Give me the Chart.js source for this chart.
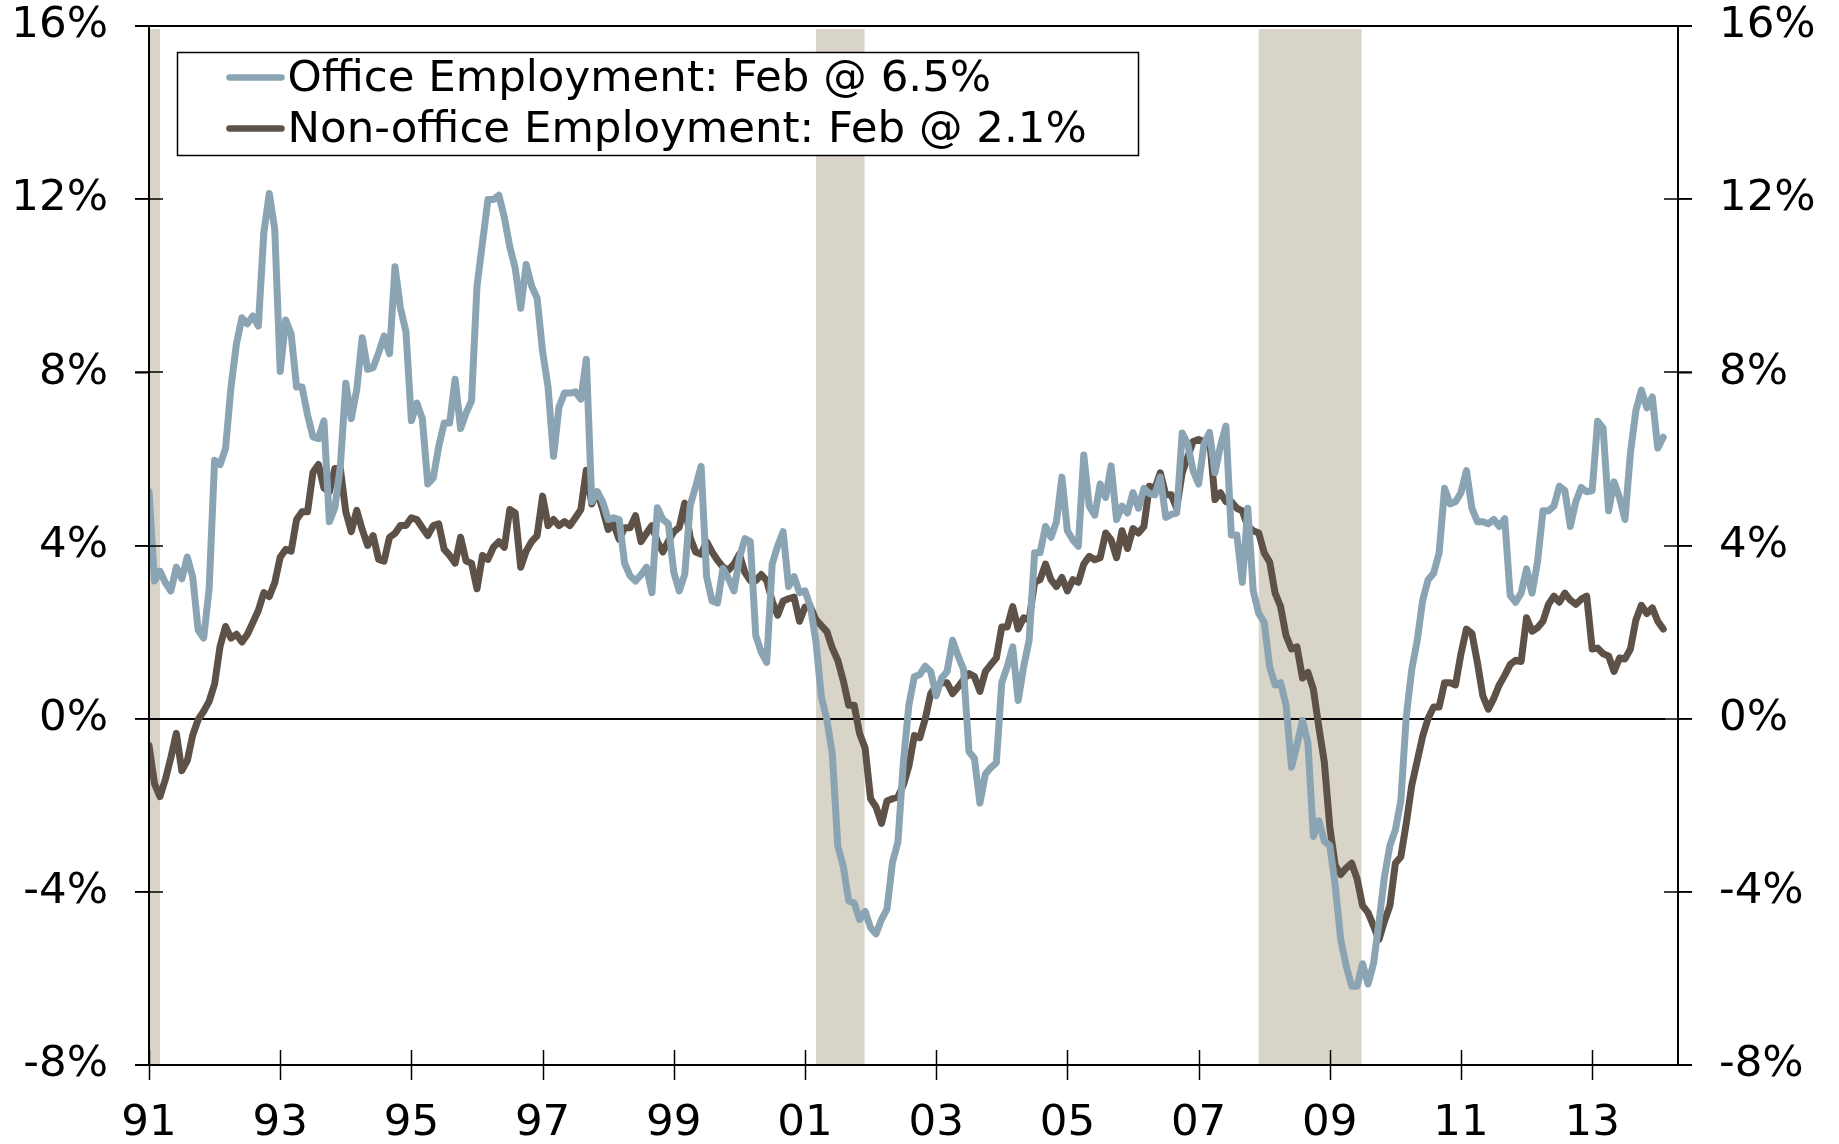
<!DOCTYPE html>
<html><head><meta charset="utf-8">
<script src="https://cdn.jsdelivr.net/npm/chart.js@4.4.1/dist/chart.umd.min.js"></script>
<style>html,body{margin:0;padding:0;background:#fff;}canvas{display:block;}</style>
</head><body>
<canvas id="c" width="1839" height="1144"></canvas>
<script>
// Monthly data, Jan 1991 (index 0) .. Feb 2014 (index 277), year-over-year % change
const startYear = 1991;
const office = [
 5.24, 3.18, 3.41, 3.14, 2.95, 3.5, 3.23, 3.73, 3.27, 2.04, 1.86, 3.0,
 5.97, 5.87, 6.24, 7.66, 8.66, 9.26, 9.12, 9.3, 9.07, 11.22, 12.13, 11.31,
 8.02, 9.21, 8.89, 7.66, 7.66, 7.02, 6.51, 6.47, 6.88, 4.55, 4.87, 5.83,
 7.75, 6.93, 7.6, 8.8, 8.07, 8.11, 8.45, 8.84, 8.43, 10.44, 9.48, 8.94,
 6.88, 7.29, 6.93, 5.42, 5.56, 6.29, 6.83, 6.83, 7.84, 6.7, 7.06, 7.34,
 9.99, 10.99, 11.99, 11.99, 12.09, 11.58, 10.9, 10.4, 9.48, 10.49, 9.99, 9.71,
 8.48, 7.66, 6.06, 7.2, 7.52, 7.52, 7.55, 7.38, 8.3, 5.01, 5.24, 5.01,
 4.6, 4.64, 4.6, 3.59, 3.3, 3.18, 3.32, 3.5, 2.91, 4.87, 4.6, 4.5,
 3.38, 2.95, 3.33, 4.93, 5.36, 5.83, 3.28, 2.72, 2.67, 3.47, 3.24, 2.95,
 3.71, 4.16, 4.09, 1.92, 1.54, 1.3, 3.57, 3.99, 4.32, 3.05, 3.28, 2.91,
 2.95, 2.58, 1.78, 0.5, -0.02, -0.82, -2.94, -3.41, -4.21, -4.26, -4.64, -4.45,
 -4.83, -4.97, -4.64, -4.4, -3.32, -2.85, -1.0, 0.31, 0.97, 1.02, 1.21, 1.09,
 0.53, 0.94, 1.09, 1.81, 1.45, 1.14, -0.76, -0.92, -1.95, -1.28, -1.13, -1.02,
 0.83, 1.2, 1.66, 0.42, 1.2, 1.81, 3.83, 3.83, 4.44, 4.19, 4.55, 5.58,
 4.34, 4.13, 3.98, 6.09, 4.91, 4.7, 5.42, 5.11, 5.84, 4.6, 4.91, 4.75,
 5.22, 4.86, 5.32, 5.2, 5.17, 5.58, 4.65, 4.72, 4.75, 6.6, 6.35, 5.73,
 5.42, 6.35, 6.61, 5.68, 6.3, 6.76, 4.24, 4.24, 3.15, 4.86, 2.95, 2.43,
 2.23, 1.2, 0.78, 0.83, 0.32, -1.12, -0.61, -0.04, -0.56, -2.72, -2.36, -2.83,
 -2.93, -3.86, -5.1, -5.71, -6.18, -6.18, -5.66, -6.13, -5.66, -4.7, -3.65, -2.93,
 -2.57, -1.9, 0.06, 1.14, 1.81, 2.74, 3.21, 3.36, 3.83, 5.32, 4.96, 5.01,
 5.22, 5.73, 4.86, 4.55, 4.55, 4.5, 4.6, 4.44, 4.62, 2.85, 2.69, 2.9,
 3.46, 2.9, 3.62, 4.8, 4.8, 4.91, 5.37, 5.27, 4.44, 5.01, 5.34, 5.24,
 5.27, 6.87, 6.71, 4.8, 5.47, 5.11, 4.6, 6.14, 7.12, 7.59, 7.18, 7.43,
 6.25, 6.5
];
const nonOffice = [
 -0.62, -1.5, -1.8, -1.4, -0.9, -0.34, -1.2, -0.97, -0.38, -0.02, 0.17, 0.4,
 0.8, 1.67, 2.13, 1.86, 1.95, 1.77, 1.95, 2.22, 2.5, 2.91, 2.82, 3.14,
 3.73, 3.91, 3.87, 4.6, 4.78, 4.78, 5.69, 5.87, 5.33, 5.24, 5.78, 5.78,
 4.78, 4.32, 4.81, 4.37, 4.0, 4.23, 3.68, 3.64, 4.19, 4.28, 4.46, 4.46,
 4.64, 4.6, 4.41, 4.23, 4.46, 4.5, 3.91, 3.77, 3.59, 4.19, 3.64, 3.59,
 3.0, 3.77, 3.68, 3.96, 4.09, 3.96, 4.83, 4.75, 3.5, 3.87, 4.09, 4.23,
 5.14, 4.46, 4.6, 4.46, 4.55, 4.46, 4.64, 4.83, 5.74, 4.96, 5.24, 4.83,
 4.37, 4.5, 4.14, 4.41, 4.41, 4.69, 4.09, 4.28, 4.46, 4.09, 3.85, 4.1,
 4.32, 4.42, 4.98, 4.18, 3.85, 3.8, 4.09, 3.85, 3.66, 3.5, 3.43, 3.57,
 3.8, 3.38, 3.19, 3.19, 3.33, 3.19, 2.72, 2.39, 2.72, 2.77, 2.81, 2.25,
 2.58, 2.58, 2.29, 2.15, 2.01, 1.63, 1.35, 0.88, 0.31, 0.31, -0.35, -0.68,
 -1.85, -2.04, -2.42, -1.9, -1.85, -1.81, -1.53, -1.1, -0.39, -0.44, 0.0, 0.58,
 0.75, 0.83, 0.83, 0.58, 0.73, 0.9, 1.04, 0.97, 0.63, 1.09, 1.25, 1.4,
 2.12, 2.12, 2.59, 2.07, 2.33, 2.28, 3.15, 3.21, 3.57, 3.21, 3.05, 3.26,
 2.95, 3.21, 3.15, 3.57, 3.75, 3.67, 3.72, 4.29, 4.13, 3.72, 4.34, 3.93,
 4.39, 4.29, 4.44, 5.37, 5.32, 5.68, 5.17, 5.17, 4.86, 5.68, 6.04, 6.4,
 6.45, 6.4, 6.48, 5.06, 5.22, 5.01, 5.01, 4.86, 4.8, 4.44, 4.34, 4.29,
 3.83, 3.62, 2.9, 2.59, 1.92, 1.61, 1.66, 0.94, 1.07, 0.68, -0.2, -1.0,
 -2.5, -3.39, -3.6, -3.45, -3.34, -3.7, -4.32, -4.48, -4.79, -5.1, -4.68, -4.32,
 -3.34, -3.19, -2.41, -1.54, -0.97, -0.4, 0.01, 0.27, 0.27, 0.83, 0.83, 0.78,
 1.5, 2.07, 1.97, 1.3, 0.53, 0.22, 0.47, 0.78, 1.0, 1.25, 1.35, 1.32,
 2.33, 2.02, 2.1, 2.25, 2.64, 2.83, 2.69, 2.9, 2.74, 2.64, 2.76, 2.83,
 1.61, 1.63, 1.5, 1.45, 1.09, 1.4, 1.38, 1.61, 2.28, 2.62, 2.43, 2.56,
 2.25, 2.07
];
const seriesNames = ['Office Employment: Feb @ 6.5%', 'Non-office Employment: Feb @ 2.1%'];
const seriesColors = ['#8BA4B4', '#5E5248'];
const yearTickMonths = [0, 24, 48, 72, 96, 120, 144, 168, 192, 216, 240, 264];
const yearTickLabels = ['91', '93', '95', '97', '99', '01', '03', '05', '07', '09', '11', '13'];
const yMin = -8, yMax = 16, yStep = 4;
const xMax = 279.7;
// Recessions (month index from Jan 1991)
const recessionStart = [0, 122, 203];
const recessionEnd = [2, 130.9, 221.8];

const FONT = {family: 'DejaVu Sans', size: 43.5};
const TICK = 14;

const pts = arr => arr.map((v, i) => ({x: i, y: v}));

const decor = {
  id: 'decor',
  beforeDatasetsDraw(chart) {
    const {ctx, chartArea: a, scales: {x, y}} = chart;
    ctx.save();
    ctx.fillStyle = '#D8D4C8';
    for (let i = 0; i < recessionStart.length; i++) {
      const x0 = Math.max(a.left + 1, x.getPixelForValue(recessionStart[i]));
      const x1 = x.getPixelForValue(recessionEnd[i]);
      ctx.fillRect(x0, a.top + 3, x1 - x0, a.bottom - a.top - 3);
    }
    ctx.strokeStyle = '#000';
    ctx.lineWidth = 2;
    const y0 = Math.round(y.getPixelForValue(0));
    ctx.beginPath();
    ctx.moveTo(a.left, y0);
    ctx.lineTo(x.getPixelForValue(office.length - 1) + 2, y0);
    ctx.stroke();
    ctx.restore();
  },
  afterDraw(chart) {
    const {ctx, chartArea: a, scales: {x, y}} = chart;
    ctx.save();
    ctx.strokeStyle = '#000';
    ctx.lineWidth = 2;
    ctx.beginPath();
    ctx.moveTo(a.left, a.top); ctx.lineTo(a.left, a.bottom);
    ctx.moveTo(a.right, a.top); ctx.lineTo(a.right, a.bottom);
    ctx.moveTo(a.left - TICK, a.top); ctx.lineTo(a.right + TICK, a.top);
    ctx.moveTo(a.left - TICK, a.bottom); ctx.lineTo(a.right + TICK, a.bottom);
    ctx.stroke();
    ctx.lineWidth = 1.5;
    ctx.beginPath();
    for (let v = yMin; v <= yMax; v += yStep) {
      const py = Math.round(y.getPixelForValue(v));
      ctx.moveTo(a.left - TICK, py); ctx.lineTo(a.left + TICK, py);
      ctx.moveTo(a.right - TICK, py); ctx.lineTo(a.right + TICK, py);
    }
    for (const m of yearTickMonths) {
      const px = Math.round(x.getPixelForValue(m)) + 0.5;
      ctx.moveTo(px, a.bottom - 15); ctx.lineTo(px, a.bottom + 15);
    }
    ctx.stroke();
    // legend
    const bx = a.left + 28.5, by = a.top + 26.5, bw = 961, bh = 103;
    ctx.fillStyle = '#fff';
    ctx.fillRect(bx, by, bw, bh);
    ctx.lineWidth = 1.5;
    ctx.strokeRect(bx, by, bw, bh);
    ctx.font = '43.5px "DejaVu Sans"';
    ctx.textBaseline = 'alphabetic';
    ctx.textAlign = 'left';
    for (let i = 0; i < seriesNames.length; i++) {
      const ly = by + 25 + i * 51;
      ctx.strokeStyle = seriesColors[i];
      ctx.lineWidth = 6.5;
      ctx.lineCap = 'round';
      ctx.beginPath(); ctx.moveTo(bx + 52, ly); ctx.lineTo(bx + 104, ly); ctx.stroke();
      ctx.fillStyle = '#000';
      ctx.fillText(seriesNames[i], bx + 110, ly + 13);
    }
    ctx.restore();
  }
};

const yScale = (pos) => ({
  type: 'linear', position: pos, min: yMin, max: yMax,
  border: {display: false},
  grid: {drawOnChartArea: false, drawTicks: true, tickLength: TICK, color: '#000', lineWidth: 1.5},
  ticks: {stepSize: yStep, font: FONT, color: '#000', padding: 27, callback: v => v + '%'},
  afterFit: s => { s.width = pos === 'left' ? 149 : 161; s.paddingTop = 0; s.paddingBottom = 0; }
});

new Chart(document.getElementById('c'), {
  type: 'line',
  data: {
    datasets: [
      {label: seriesNames[0], data: pts(office), borderColor: seriesColors[0], borderWidth: 7, yAxisID: 'y'},
      {label: seriesNames[1], data: pts(nonOffice), borderColor: seriesColors[1], borderWidth: 7, yAxisID: 'y'}
    ]
  },
  options: {
    responsive: false, animation: false, events: [],
    layout: {autoPadding: false, padding: {top: 26, left: 0, right: 0, bottom: 0}},
    elements: {point: {radius: 0}, line: {tension: 0, borderJoinStyle: 'round', borderCapStyle: 'round', fill: false}},
    plugins: {legend: {display: false}, tooltip: {enabled: false}},
    scales: {
      x: {
        type: 'linear', min: 0, max: xMax,
        border: {display: false},
        grid: {drawOnChartArea: false, drawTicks: false},
        afterBuildTicks: axis => { axis.ticks = yearTickMonths.map(v => ({value: v})); },
        ticks: {font: FONT, color: '#000', padding: 33, maxRotation: 0, autoSkip: false,
                callback: v => yearTickLabels[yearTickMonths.indexOf(v)]},
        afterFit: s => { s.height = 79; s.paddingLeft = 0; s.paddingRight = 0; }
      },
      y: yScale('left'),
      y2: yScale('right')
    }
  },
  plugins: [decor]
});
</script>
</body></html>
